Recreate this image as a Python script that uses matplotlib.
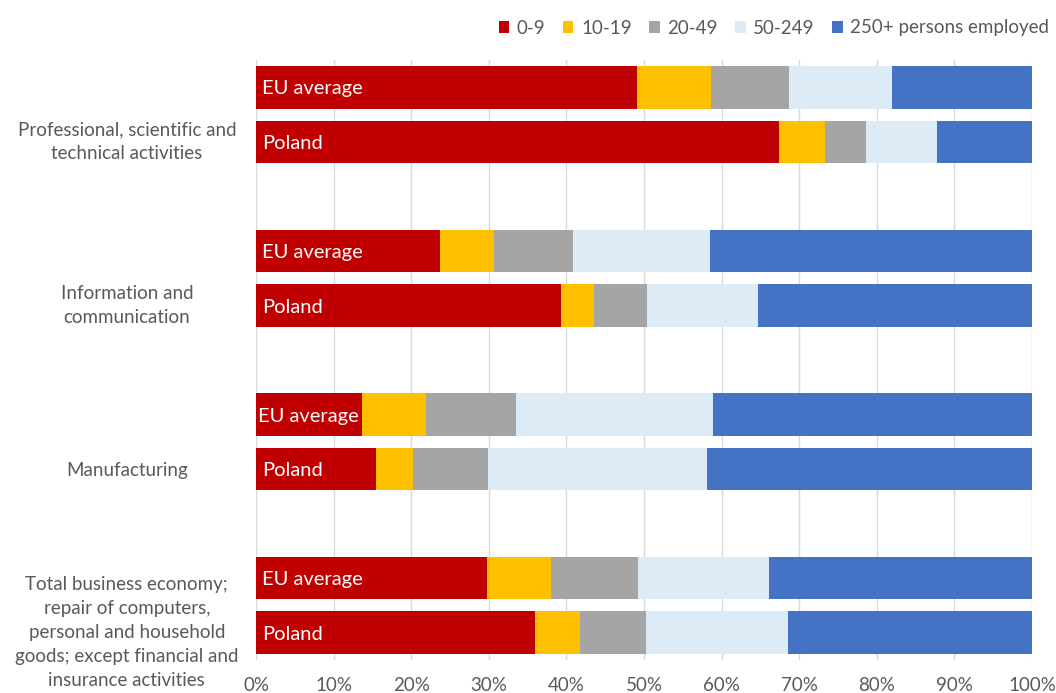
import matplotlib
matplotlib.use("Agg")
import matplotlib.pyplot as plt
import matplotlib.transforms as mtransforms
import numpy as np

plt.rcParams['font.family'] = ['Lato', 'DejaVu Sans']

categories = ["Professional, scientific and\ntechnical activities",
              "Information and\ncommunication",
              "Manufacturing",
              "Total business economy;\nrepair of computers,\npersonal and household\ngoods; except financial and\ninsurance activities"]
rows = ["EU average", "Poland"]
size_classes = ["0-9", "10-19", "20-49", "50-249", "250+ persons employed"]
colors = ["#C00000", "#FFC000", "#A5A5A5", "#DDEBF7", "#4472C4"]

# shares (%) per size class, order: [cat0 EU, cat0 PL, cat1 EU, cat1 PL, ...]
s0_9 =    [49.1, 67.4, 23.7, 39.3, 13.7, 15.5, 29.8, 36.0]
s10_19 =  [9.5, 5.9, 7.0, 4.3, 8.2, 4.7, 8.2, 5.8]
s20_49 =  [10.1, 5.3, 10.2, 6.8, 11.6, 9.7, 11.2, 8.5]
s50_249 = [13.3, 9.2, 17.6, 14.3, 25.4, 28.2, 16.9, 18.3]
s250 =    [18.0, 12.2, 41.5, 35.3, 41.1, 41.9, 33.9, 31.4]
series = [s0_9, s10_19, s20_49, s50_249, s250]

fig = plt.figure(figsize=(10.56, 6.93), dpi=100)
ax = fig.add_axes([256/1056, 1-660/693, (1032-256)/1056, 600/693])

ypos = []
for i in range(len(categories)):
    ypos += [i*3, i*3+1]
ypos = np.array(ypos, dtype=float)

left = np.zeros(len(ypos))
for vals, col, name in zip(series, colors, size_classes):
    v = np.array(vals)
    ax.barh(ypos, v, left=left, height=0.78, color=col, label=name, zorder=3)
    left += v

for j, y in enumerate(ypos):
    xo = 0.2 if (j == 4) else 0.8
    ax.text(xo, y + 0.03, rows[j % 2], color="white", va="center", ha="left",
            fontsize=14.5, zorder=4)

ax.set_ylim(10.5, -0.5)
ax.set_xlim(0, 100)
ax.set_xticks(np.arange(0, 101, 10))
ax.set_xticklabels([f"{t}%" for t in range(0, 101, 10)])
ax.set_yticks([i*3+1 for i in range(len(categories))])
ax.set_yticklabels(categories, ha="center", multialignment="center", linespacing=1.5)
ax.tick_params(axis="y", length=0, pad=93, labelsize=13.5, labelcolor="#595959")
ax.tick_params(axis="x", length=0, pad=12.5, labelsize=13.5, labelcolor="#595959")
ax.grid(axis="x", color="#D9D9D9", linewidth=1, zorder=0)
for s in ax.spines.values():
    s.set_visible(False)

shift = mtransforms.ScaledTranslation(0, 5/100, fig.dpi_scale_trans)
for lab in ax.get_yticklabels():
    if "\n" in lab.get_text():
        lab.set_transform(lab.get_transform() + shift)

handles, labels = ax.get_legend_handles_labels()
leg = fig.legend(handles, labels, loc="center right", bbox_to_anchor=(1.006, 1-28/693),
                 ncol=5, frameon=False, fontsize=13.5, handlelength=0.55, handleheight=0.55,
                 handletextpad=0.4, columnspacing=0.95, labelcolor="#595959",
                 borderpad=0.2)

fig.savefig("out.png", dpi=100)
